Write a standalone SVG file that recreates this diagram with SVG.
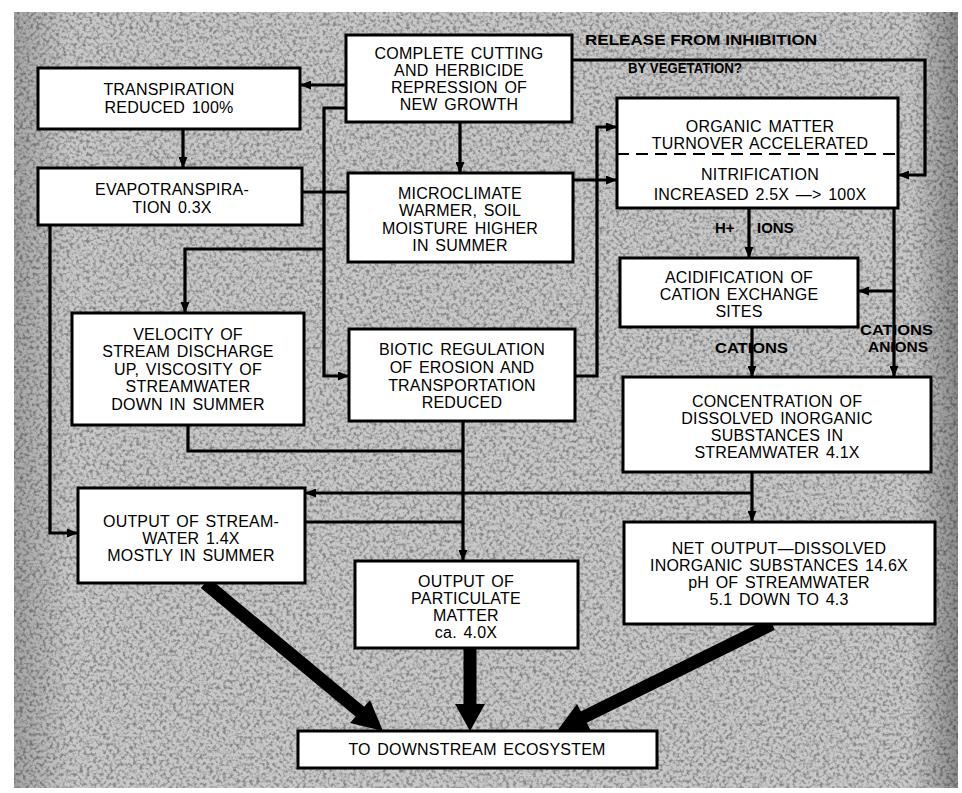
<svg xmlns="http://www.w3.org/2000/svg" width="962" height="793" viewBox="0 0 962 793">
<style>
.box{fill:#fff;stroke:#000;stroke-width:3}
.t{font-family:"Liberation Sans",Arial,sans-serif;font-size:16px;fill:#000;text-anchor:middle;word-spacing:2px;letter-spacing:0.2px}
.b{font-family:"Liberation Sans",Arial,sans-serif;font-size:15px;font-weight:bold;fill:#000}
.c{fill:none;stroke:#000;stroke-width:3.2;stroke-linejoin:miter}
.thick{fill:none;stroke:#000;stroke-width:13}
</style>
<defs>
<marker id="ah" markerUnits="userSpaceOnUse" markerWidth="11" markerHeight="9" refX="10" refY="4.5" orient="auto">
<path d="M0,0 L11,4.5 L0,9 z" fill="#000"/>
</marker>
<filter id="grain" x="0" y="0" width="100%" height="100%">
<feTurbulence type="fractalNoise" baseFrequency="0.3" numOctaves="2" seed="7"/>
<feColorMatrix type="matrix" values="0 0 0 0 0  0 0 0 0 0  0 0 0 0 0  3 0 0 0 -1.3"/>
</filter>
<linearGradient id="edge" x1="0" y1="0" x2="1" y2="0">
<stop offset="0" stop-color="#000" stop-opacity="0.18"/>
<stop offset="0.06" stop-color="#000" stop-opacity="0"/>
<stop offset="0.95" stop-color="#000" stop-opacity="0"/>
<stop offset="1" stop-color="#000" stop-opacity="0.3"/>
</linearGradient>
</defs>
<rect width="962" height="793" fill="#fff"/>
<rect x="14" y="12" width="944" height="776" fill="#c8c8c8"/>
<rect x="14" y="12" width="944" height="776" filter="url(#grain)" opacity="0.35"/>
<rect x="14" y="12" width="944" height="776" fill="url(#edge)"/>

<g id="connectors">
<path class="c" d="M346,85 H301" marker-end="url(#ah)"/>
<path class="c" d="M183,129 V167" marker-end="url(#ah)"/>
<path class="c" d="M460,122 V172" marker-end="url(#ah)"/>
<path class="c" d="M346,108 H324 V376 H348" marker-end="url(#ah)"/>
<path class="c" d="M302,192 H347"/>
<path class="c" d="M324,249 H185 V312" marker-end="url(#ah)"/>
<path class="c" d="M50,225 V533 H77" marker-end="url(#ah)"/>
<path class="c" d="M572,60 H925 V175 H899" marker-end="url(#ah)"/>
<path class="c" d="M573,180 H616" marker-end="url(#ah)"/>
<path class="c" d="M575,376 H597 V127 H616" marker-end="url(#ah)"/>
<path class="c" d="M749,208 V257" marker-end="url(#ah)"/>
<path class="c" d="M752,327 V376" marker-end="url(#ah)"/>
<path class="c" d="M894,208 V376" marker-end="url(#ah)"/>
<path class="c" d="M894,291 H859" marker-end="url(#ah)"/>
<path class="c" d="M752,472 V521" marker-end="url(#ah)"/>
<path class="c" d="M752,493 H306" marker-end="url(#ah)"/>
<path class="c" d="M188,425 V451 H463"/>
<path class="c" d="M463,421 V560" marker-end="url(#ah)"/>
<path class="c" d="M305,522 H463"/>
<path class="thick" d="M205,583 L364,715"/>
<polygon points="383,731 350,723 370,700" fill="#000"/>
<path class="thick" d="M470,648 V710"/>
<polygon points="470,731 455,704 485,704" fill="#000"/>
<path class="thick" d="M772,624 L582,718"/>
<polygon points="557,731 577,704 591,731" fill="#000"/>
<text class="b" x="585" y="45" textLength="232" lengthAdjust="spacingAndGlyphs">RELEASE FROM INHIBITION</text>
<text class="b" x="628" y="73" textLength="114" lengthAdjust="spacingAndGlyphs">BY VEGETATION?</text>
<text class="b" y="233"><tspan x="715">H+</tspan><tspan x="757">IONS</tspan></text>
<text class="b" x="715" y="353" textLength="73" lengthAdjust="spacingAndGlyphs">CATIONS</text>
<text class="b" x="860" y="335" textLength="73" lengthAdjust="spacingAndGlyphs">CATIONS</text>
<text class="b" x="868" y="352" textLength="60" lengthAdjust="spacingAndGlyphs">ANIONS</text>
</g>

<g id="n_cut">
<rect class="box" x="346" y="35" width="226" height="87"/>
<text class="t" x="459" y="59">COMPLETE CUTTING</text>
<text class="t" x="459" y="76">AND HERBICIDE</text>
<text class="t" x="459" y="93">REPRESSION OF</text>
<text class="t" x="459" y="110">NEW GROWTH</text>
</g>
<g id="n_transp">
<rect class="box" x="38" y="68" width="262" height="61"/>
<text class="t" x="169" y="95">TRANSPIRATION</text>
<text class="t" x="169" y="113">REDUCED 100%</text>
</g>
<g id="n_evapo">
<rect class="box" x="38" y="168" width="264" height="57"/>
<text class="t" x="172" y="195">EVAPOTRANSPIRA-</text>
<text class="t" x="172" y="213">TION 0.3X</text>
</g>
<g id="n_micro">
<rect class="box" x="348" y="173" width="225" height="89"/>
<text class="t" x="460" y="199">MICROCLIMATE</text>
<text class="t" x="460" y="216">WARMER, SOIL</text>
<text class="t" x="460" y="234">MOISTURE HIGHER</text>
<text class="t" x="460" y="251">IN SUMMER</text>
</g>
<g id="n_organic">
<rect class="box" x="617" y="98" width="281" height="110"/>
<line x1="617" y1="154" x2="898" y2="154" stroke="#000" stroke-width="1.8" stroke-dasharray="12,7"/>
<text class="t" x="760" y="132">ORGANIC MATTER</text>
<text class="t" x="760" y="149">TURNOVER ACCELERATED</text>
<text class="t" x="760" y="180">NITRIFICATION</text>
<text class="t" x="760" y="200">INCREASED 2.5X —&gt; 100X</text>
</g>
<g id="n_acid">
<rect class="box" x="620" y="258" width="238" height="69"/>
<text class="t" x="739" y="283">ACIDIFICATION OF</text>
<text class="t" x="739" y="300">CATION EXCHANGE</text>
<text class="t" x="739" y="317">SITES</text>
</g>
<g id="n_velocity">
<rect class="box" x="72" y="313" width="232" height="112"/>
<text class="t" x="188" y="340">VELOCITY OF</text>
<text class="t" x="188" y="357">STREAM DISCHARGE</text>
<text class="t" x="188" y="375">UP, VISCOSITY OF</text>
<text class="t" x="188" y="392">STREAMWATER</text>
<text class="t" x="188" y="410">DOWN IN SUMMER</text>
</g>
<g id="n_biotic">
<rect class="box" x="349" y="329" width="226" height="92"/>
<text class="t" x="462" y="355">BIOTIC REGULATION</text>
<text class="t" x="462" y="373">OF EROSION AND</text>
<text class="t" x="462" y="391">TRANSPORTATION</text>
<text class="t" x="462" y="408">REDUCED</text>
</g>
<g id="n_conc">
<rect class="box" x="623" y="377" width="308" height="95"/>
<text class="t" x="777" y="407">CONCENTRATION OF</text>
<text class="t" x="777" y="424">DISSOLVED INORGANIC</text>
<text class="t" x="777" y="441">SUBSTANCES IN</text>
<text class="t" x="777" y="458">STREAMWATER 4.1X</text>
</g>
<g id="n_outstream">
<rect class="box" x="78" y="488" width="227" height="95"/>
<text class="t" x="191" y="527">OUTPUT OF STREAM-</text>
<text class="t" x="191" y="544">WATER 1.4X</text>
<text class="t" x="191" y="561">MOSTLY IN SUMMER</text>
</g>
<g id="n_partic">
<rect class="box" x="355" y="561" width="223" height="87"/>
<text class="t" x="466" y="587">OUTPUT OF</text>
<text class="t" x="466" y="604">PARTICULATE</text>
<text class="t" x="466" y="621">MATTER</text>
<text class="t" x="466" y="638">ca. 4.0X</text>
</g>
<g id="n_net">
<rect class="box" x="624" y="522" width="311" height="102"/>
<text class="t" x="779" y="554">NET OUTPUT—DISSOLVED</text>
<text class="t" x="779" y="571">INORGANIC SUBSTANCES 14.6X</text>
<text class="t" x="779" y="588">pH OF STREAMWATER</text>
<text class="t" x="779" y="605">5.1 DOWN TO 4.3</text>
</g>
<g id="n_down">
<rect class="box" x="298" y="731" width="359" height="37"/>
<text class="t" x="477" y="755">TO DOWNSTREAM ECOSYSTEM</text>
</g>
</svg>
